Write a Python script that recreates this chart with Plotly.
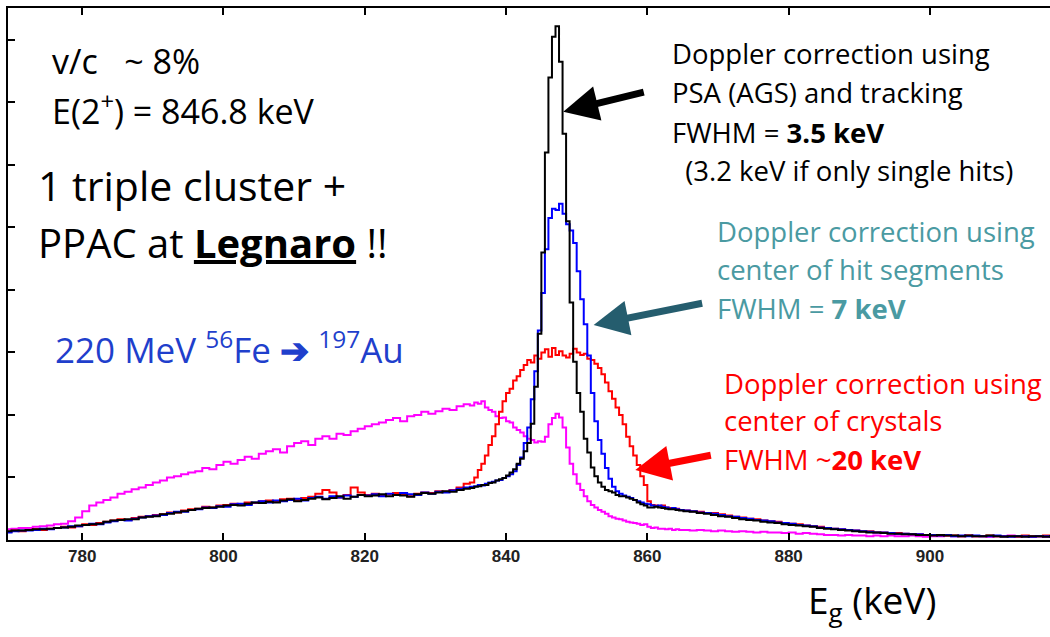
import numpy as np
import plotly.graph_objects as go

# ---------------- data (arbitrary counts units, 1 unit = 1 y-tick) ----------------
# energy bin grid: 1 keV bins 769-835, 0.5 keV bins 835-865, 1 keV bins 865-918
E_A = np.arange(769.5, 835.0, 1.0)      # 66 bins
E_B = np.arange(835.25, 865.0, 0.5)     # 60 bins
E_C = np.arange(865.5, 918.0, 1.0)      # 53 bins

black_A = [0.14,0.15,0.15,0.16,0.17,0.17,0.18,0.19,0.20,0.21,0.23,
           0.24,0.25,0.26,0.29,0.31,0.32,0.33,0.33,0.36,0.37,
           0.38,0.41,0.42,0.44,0.46,0.48,0.50,0.51,0.52,0.53,
           0.55,0.56,0.55,0.58,0.60,0.59,0.61,0.60,0.63,0.65,
           0.62,0.64,0.66,0.68,0.65,0.67,0.70,0.66,0.69,0.72,
           0.70,0.71,0.73,0.70,0.72,0.71,0.69,0.73,0.75,0.74,
           0.76,0.78,0.77,0.80,0.82]
black_B = [0.83,0.85,0.86,0.88,0.88,0.91,0.92,0.95,0.97,0.99,
           1.03,1.08,1.13,1.22,1.30,1.42,1.55,1.86,2.45,3.30,
           4.60,6.20,7.40,8.05,8.22,7.65,6.50,5.10,3.80,2.85,
           2.35,2.05,1.62,1.40,1.16,1.02,0.92,0.85,0.80,0.78,
           0.76,0.72,0.70,0.70,0.68,0.66,0.64,0.60,0.57,0.55,
           0.52,0.52,0.53,0.52,0.51,0.50,0.49,0.49,0.48,0.47]
black_C = [0.46,0.45,0.43,0.42,0.40,0.38,0.37,0.35,0.33,0.32,
           0.31,0.29,0.28,0.27,0.25,0.24,0.23,0.22,0.21,0.19,
           0.18,0.17,0.16,0.15,0.14,0.13,0.12,0.12,0.11,0.10,
           0.10,0.09,0.09,0.08,0.08,0.07,0.08,0.07,0.07,0.06,
           0.07,0.06,0.06,0.07,0.06,0.05,0.06,0.06,0.05,0.06,
           0.06,0.05,0.06]

blue_A = [0.12,0.14,0.15,0.15,0.16,0.18,0.17,0.19,0.20,0.22,0.22,
          0.24,0.26,0.25,0.28,0.30,0.32,0.31,0.34,0.36,0.38,
          0.39,0.40,0.43,0.45,0.45,0.48,0.49,0.52,0.51,0.54,
          0.53,0.57,0.58,0.56,0.60,0.62,0.60,0.63,0.62,0.64,
          0.66,0.63,0.67,0.69,0.66,0.70,0.68,0.71,0.69,0.72,
          0.71,0.73,0.70,0.74,0.72,0.75,0.73,0.72,0.76,0.74,
          0.77,0.76,0.79,0.82,0.84]
blue_B = [0.85,0.86,0.88,0.87,0.90,0.92,0.93,0.95,0.96,0.99,
          1.02,1.05,1.10,1.20,1.32,1.55,1.80,2.25,2.70,3.35,
          3.95,4.65,5.15,5.30,5.28,5.38,5.22,5.05,4.95,4.75,
          4.30,3.85,3.45,2.95,2.35,1.90,1.60,1.38,1.15,0.98,
          0.85,0.78,0.74,0.71,0.69,0.67,0.64,0.62,0.60,0.58,
          0.57,0.55,0.54,0.55,0.53,0.52,0.50,0.51,0.49,0.48]
blue_C = [0.47,0.46,0.44,0.43,0.42,0.40,0.38,0.37,0.35,0.34,
          0.32,0.31,0.30,0.28,0.27,0.26,0.24,0.23,0.22,0.20,
          0.19,0.18,0.17,0.16,0.15,0.14,0.13,0.12,0.12,0.11,
          0.10,0.10,0.09,0.09,0.08,0.08,0.07,0.08,0.06,0.07,
          0.06,0.07,0.06,0.06,0.07,0.06,0.05,0.06,0.06,0.05,
          0.06,0.06,0.05]

red_A = [0.13,0.15,0.14,0.16,0.17,0.16,0.18,0.19,0.21,0.20,0.22,
         0.25,0.24,0.27,0.29,0.31,0.33,0.32,0.35,0.37,0.38,
         0.40,0.41,0.44,0.44,0.47,0.49,0.50,0.53,0.52,0.55,
         0.56,0.58,0.57,0.60,0.59,0.62,0.63,0.61,0.65,0.66,
         0.64,0.67,0.69,0.74,0.80,0.76,0.68,0.72,0.84,0.76,
         0.72,0.74,0.71,0.73,0.75,0.72,0.70,0.74,0.76,0.75,
         0.78,0.77,0.80,0.84,0.90]
red_B = [0.92,1.00,1.12,1.22,1.35,1.52,1.66,1.85,2.05,2.22,
         2.35,2.42,2.55,2.62,2.72,2.80,2.88,2.84,2.95,2.90,
         3.00,3.05,2.93,3.07,2.96,3.02,2.95,2.92,2.98,3.06,
         3.00,2.96,2.98,2.90,2.88,2.82,2.75,2.65,2.52,2.38,
         2.26,2.12,2.00,1.85,1.65,1.50,1.35,1.20,1.02,0.88,
         0.62,0.56,0.55,0.54,0.55,0.52,0.51,0.50,0.50,0.48]
red_C = [0.47,0.46,0.45,0.43,0.43,0.41,0.39,0.37,0.36,0.34,
         0.33,0.31,0.30,0.29,0.27,0.26,0.25,0.23,0.22,0.21,
         0.19,0.18,0.17,0.16,0.15,0.14,0.14,0.12,0.12,0.11,
         0.11,0.10,0.09,0.09,0.08,0.08,0.07,0.07,0.07,0.06,
         0.07,0.06,0.06,0.07,0.06,0.06,0.06,0.05,0.07,0.06,
         0.06,0.07,0.06]

magenta_A = [0.17,0.18,0.19,0.19,0.21,0.22,0.23,0.25,0.26,0.30,0.36,
             0.46,0.55,0.60,0.64,0.68,0.74,0.77,0.81,0.84,0.88,
             0.92,0.95,1.00,1.02,1.05,1.08,1.10,1.15,1.13,1.20,
             1.25,1.22,1.28,1.33,1.30,1.38,1.42,1.45,1.40,1.50,
             1.55,1.58,1.52,1.62,1.66,1.62,1.70,1.68,1.74,1.78,
             1.82,1.85,1.88,1.92,1.95,1.90,1.98,2.00,2.05,2.02,
             2.06,2.10,2.08,2.14,2.17]
magenta_B = [2.15,2.20,2.18,2.22,2.12,2.08,2.05,1.98,1.95,1.96,
             1.90,1.88,1.80,1.76,1.72,1.66,1.62,1.60,1.56,1.58,
             1.57,1.65,1.85,1.95,2.02,1.96,1.80,1.48,1.22,1.05,
             0.90,0.80,0.70,0.62,0.56,0.52,0.48,0.45,0.42,0.38,
             0.36,0.34,0.33,0.31,0.29,0.28,0.27,0.26,0.24,0.25,
             0.21,0.19,0.20,0.18,0.18,0.17,0.18,0.16,0.17,0.16]
magenta_C = [0.16,0.15,0.16,0.15,0.14,0.15,0.14,0.13,0.14,0.13,
             0.12,0.13,0.12,0.12,0.11,0.12,0.10,0.11,0.10,0.09,
             0.08,0.08,0.07,0.08,0.07,0.07,0.06,0.07,0.06,0.07,
             0.06,0.06,0.07,0.06,0.05,0.06,0.06,0.07,0.06,0.06,
             0.07,0.06,0.06,0.05,0.06,0.06,0.07,0.06,0.06,0.05,
             0.06,0.05,0.06]

x_ticks = [780, 800, 820, 840, 860, 880, 900]
x_range = [769.5, 917.0]
y_range = [0, 8.51]

# ---------------- figure ----------------
W, H = 1050, 637
ML, MR, MT, MB = 8, 0, 8, 97
PW, PH = W - ML - MR, H - MT - MB

energy = np.concatenate([E_A, E_B, E_C])
series = [
    ("no correction", magenta_A + magenta_B + magenta_C, "#ff00ff"),
    ("crystals", red_A + red_B + red_C, "#ff0000"),
    ("segments", blue_A + blue_B + blue_C, "#0000ff"),
    ("PSA tracking", black_A + black_B + black_C, "#000000"),
]

fig = go.Figure()
for name, vals, col in series:
    n = min(len(vals), len(energy))
    fig.add_trace(go.Scatter(x=energy[:n], y=vals[:n], mode="lines", name=name,
                             line=dict(color=col, width=2, shape="hvh"),
                             showlegend=False, hoverinfo="skip"))

FONT = "Open Sans"

def px2paper(px, py):
    return (px - ML) / PW, (H - MB - py) / PH

annots = []

def txt(s, px, py, size, color="#000000"):
    x, y = px2paper(px, py)
    annots.append(dict(text=s, x=x, y=y, xref="paper", yref="paper",
                       xanchor="left", yanchor="middle", showarrow=False,
                       align="left", font=dict(family=FONT, size=size, color=color)))

NB = "\u00a0"
txt("v/c" + NB * 3 + "~ 8%", 50, 61, 34)
txt("E(2<sup>+</sup>) = 846.8 keV", 50, 109, 34)
txt("1 triple cluster +", 36, 185, 41)
txt("PPAC at <b><u>Legnaro</u></b> !!", 36, 243, 40)
txt("220 MeV <sup>56</sup>Fe <b>\u2794</b> <sup>197</sup>Au", 53, 347, 35, "#1f3fcc")

txt("Doppler correction using", 670, 53, 27.5)
txt("PSA (AGS) and tracking", 670, 92, 27.5)
txt("FWHM = <b>3.5 keV</b>", 670, 132, 27.5)
txt(NB + "(3.2 keV if only single hits)", 676, 170, 27.5)

TEAL = "#4a9aa2"
txt("Doppler correction using", 715, 231, 27.5, TEAL)
txt("center of hit segments", 715, 269, 27.5, TEAL)
txt("FWHM = <b>7 keV</b>", 715, 308, 27.5, TEAL)

txt("Doppler correction using", 722, 383, 27.5, "#ff0000")
txt("center of crystals", 722, 420, 27.5, "#ff0000")
txt("FWHM ~<b>20 keV</b>", 722, 459, 27.5, "#ff0000")

txt("E<sub>g</sub> (keV)", 806, 602, 37)

# arrows (tip in data coordinates, tail offset in pixels)
def arrow(xd, yd, axp, ayp, color):
    annots.append(dict(x=xd, y=yd, xref="x", yref="y", ax=axp, ay=ayp,
                       text="", showarrow=True, arrowhead=2, arrowsize=1.0,
                       arrowwidth=7, arrowcolor=color, standoff=0))

arrow(848.1, 6.85, 82, -20, "#000000")
arrow(852.4, 3.44, 110, -22, "#255d6e")
arrow(858.3, 1.12, 77, -15, "#ff0000")

fig.update_layout(
    width=W, height=H,
    margin=dict(l=ML, r=MR, t=MT, b=MB),
    paper_bgcolor="white", plot_bgcolor="white",
    annotations=annots,
    xaxis=dict(range=x_range, tickvals=x_ticks,
               ticktext=["<b>%d</b>" % v for v in x_ticks],
               showgrid=False, zeroline=False, showline=True, linecolor="black",
               linewidth=2, mirror="ticks", ticks="inside", ticklen=7, tickwidth=2,
               tickcolor="black",
               tickfont=dict(family="Liberation Sans", size=17, color="#222222"),
               ),
    yaxis=dict(range=y_range, tickvals=[1, 2, 3, 4, 5, 6, 7, 8], showticklabels=False,
               showgrid=False, zeroline=False, showline=True, linecolor="black",
               linewidth=2, mirror=False, ticks="inside", ticklen=7, tickwidth=2,
               tickcolor="black"),
)

fig.write_html("out.html")
